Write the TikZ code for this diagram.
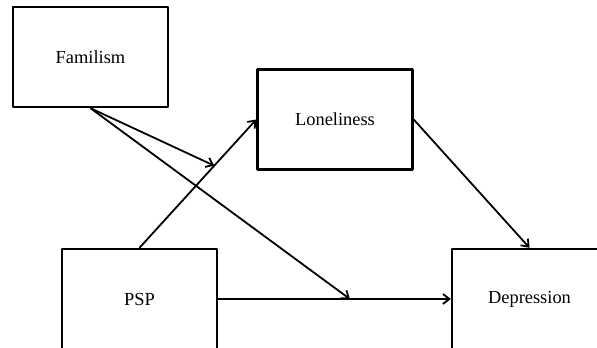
\documentclass[tikz,border=0pt]{standalone}
\usepackage{fontspec}
\setmainfont{Liberation Serif}
\usetikzlibrary{arrows.meta}
\begin{document}
\begin{tikzpicture}[x=0.5pt, y=-0.5pt, line join=round, >={Straight Barb[length=3.2pt,width=5pt]}]
            \tikzset{every node/.style={font=\fontsize{9.2}{11}\selectfont},
                varbox/.style={draw, line width=1.2pt, minimum width=77.5pt, minimum height=50pt, inner sep=0pt},
                path/.style={->, line width=0.9pt}}
            \useasboundingbox (0,0) rectangle (597,347);
            \clip (0,0) rectangle (597,347);
            \node[varbox] (fam) at (90.5,57) {Familism};
            \node[varbox] (lon) at (335,119.5) {Loneliness};
            \node[varbox] (psp) at (139.5,299) {PSP};
            \node[varbox] (dep) at (529.5,299) {Depression};
            % direct and indirect paths
            \draw[path] (psp.north) -- coordinate[pos=0.64] (ma) (lon.west);
            \draw[path] (lon.east) -- (dep.north);
            \draw[path] (psp.east) -- coordinate[pos=0.566] (mb) (dep.west);
            % moderation by familism
            \draw[path] (fam.south) -- (ma);
            \draw[path] (fam.south) -- (mb);
\end{tikzpicture}
\end{document}
